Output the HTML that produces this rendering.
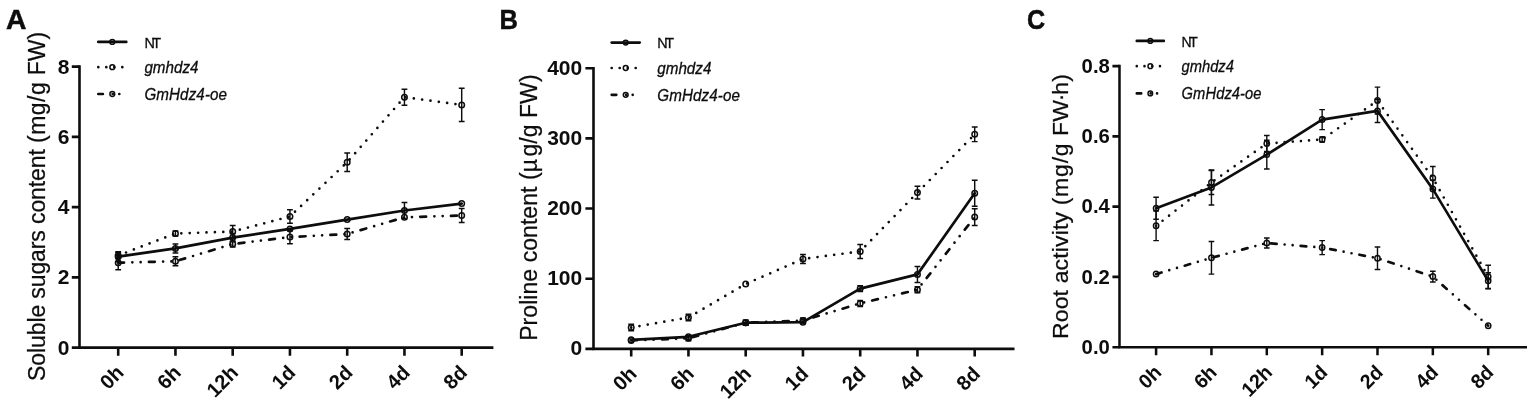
<!DOCTYPE html>
<html lang="en">
<head>
<meta charset="utf-8">
<title>Figure: soluble sugars, proline content and root activity</title>
<style>
html,body{margin:0;padding:0;background:#fff;}
body{width:1535px;height:403px;overflow:hidden;}
svg{display:block;}
text{font-family:"Liberation Sans", sans-serif;fill:#0d0d0d;}
.panel{font-size:28px;font-weight:700;stroke:#0d0d0d;stroke-width:0.5px;}
.tick{font-size:21px;font-weight:700;}
.xt{font-size:20.2px;font-weight:700;}
.title{font-size:23px;stroke:#0d0d0d;stroke-width:0.25px;}
.leg{font-size:16px;stroke:#0d0d0d;stroke-width:0.3px;}
.it{font-style:italic;}
.ax{stroke:#0d0d0d;stroke-width:2.6;fill:none;stroke-linecap:butt;}
.ln{stroke:#0d0d0d;stroke-width:2.7;fill:none;stroke-linejoin:round;stroke-linecap:round;}
.eb{stroke:#0d0d0d;stroke-width:1.45;fill:none;}
.mk{stroke:#0d0d0d;stroke-width:1.5;fill:none;}
</style>
</head>
<body>
<svg width="1535" height="403" viewBox="0 0 1535 403">
<rect x="0" y="0" width="1535" height="403" fill="#fff"/>
<g>
<text class="panel" transform="translate(6,29) scale(1.01,1)">A</text>
<text class="title" letter-spacing="0" text-anchor="middle" transform="translate(44.5,206.4) rotate(-90)"><tspan letter-spacing="-0.11">Soluble sugars content </tspan><tspan letter-spacing="0.5">(mg/g</tspan><tspan letter-spacing="0"> FW)</tspan></text>
<path class="ax" d="M79.5,65.3 V348.9 M78.2,347.6 H493.4"/>
<text class="tick" text-anchor="end" x="69.4" y="354.6">0</text>
<text class="tick" text-anchor="end" x="69.4" y="284.35">2</text>
<text class="tick" text-anchor="end" x="69.4" y="214.1">4</text>
<text class="tick" text-anchor="end" x="69.4" y="143.85">6</text>
<text class="tick" text-anchor="end" x="69.4" y="73.6">8</text>
<text class="xt" text-anchor="end" transform="translate(125,373.8) rotate(-45)">0h</text>
<text class="xt" text-anchor="end" transform="translate(182.25,373.8) rotate(-45)">6h</text>
<text class="xt" text-anchor="end" transform="translate(239.5,373.8) rotate(-45)">12h</text>
<text class="xt" text-anchor="end" transform="translate(296.75,373.8) rotate(-45)">1d</text>
<text class="xt" text-anchor="end" transform="translate(354,373.8) rotate(-45)">2d</text>
<text class="xt" text-anchor="end" transform="translate(411.25,373.8) rotate(-45)">4d</text>
<text class="xt" text-anchor="end" transform="translate(468.5,373.8) rotate(-45)">8d</text>
<path class="ax" d="M71.8,347.6 H79.5 M71.8,277.35 H79.5 M71.8,207.1 H79.5 M71.8,136.85 H79.5 M71.8,66.6 H79.5 M118.2,347.6 V355.7 M175.45,347.6 V355.7 M232.7,347.6 V355.7 M289.95,347.6 V355.7 M347.2,347.6 V355.7 M404.45,347.6 V355.7 M461.7,347.6 V355.7"/>
<path class="ln" d="M118.2,256.7 L175.45,248.4 L232.7,237.6 L289.95,228.9 L347.2,219.6 L404.45,210.5 L461.7,203.6"/>
<path class="ln" stroke-width="2.9" stroke-dasharray="0 8.4" d="M118.2,255.5 L175.45,233.5 L232.7,231.6 L289.95,216.5 L347.2,162.2 L404.45,97.2 L461.7,104.9"/>
<path class="ln" stroke-width="2.9" stroke-dasharray="5.85 8.3 0 8.3 0 8.3" d="M118.2,262.7 L175.45,261.3 L232.7,244 L289.95,237.1 L347.2,234 L404.45,217.3 L461.7,215.5"/>
<path class="eb" d="M118.2,251.7 V261.7 M115.3,251.7 H121.1 M115.3,261.7 H121.1 M175.45,243.9 V252.9 M172.55,243.9 H178.35 M172.55,252.9 H178.35 M232.7,233.6 V241.6 M229.8,233.6 H235.6 M229.8,241.6 H235.6 M404.45,202.5 V218.5 M401.55,202.5 H407.35 M401.55,218.5 H407.35"/>
<circle class="mk" cx="118.2" cy="256.7" r="2.75"/>
<circle class="mk" cx="175.45" cy="248.4" r="2.75"/>
<circle class="mk" cx="232.7" cy="237.6" r="2.75"/>
<circle class="mk" cx="289.95" cy="228.9" r="2.75"/>
<circle class="mk" cx="347.2" cy="219.6" r="2.75"/>
<circle class="mk" cx="404.45" cy="210.5" r="2.75"/>
<circle class="mk" cx="461.7" cy="203.6" r="2.75"/>
<path class="eb" d="M118.2,252.5 V258.5 M115.3,252.5 H121.1 M115.3,258.5 H121.1 M175.45,231 V236 M172.55,231 H178.35 M172.55,236 H178.35 M232.7,225.4 V237.8 M229.8,225.4 H235.6 M229.8,237.8 H235.6 M289.95,209.8 V223.2 M287.05,209.8 H292.85 M287.05,223.2 H292.85 M347.2,153 V171.4 M344.3,153 H350.1 M344.3,171.4 H350.1 M404.45,89.2 V105.2 M401.55,89.2 H407.35 M401.55,105.2 H407.35 M461.7,88.3 V121.5 M458.8,88.3 H464.6 M458.8,121.5 H464.6"/>
<circle class="mk" cx="118.2" cy="255.5" r="2.75"/>
<circle class="mk" cx="175.45" cy="233.5" r="2.75"/>
<circle class="mk" cx="232.7" cy="231.6" r="2.75"/>
<circle class="mk" cx="289.95" cy="216.5" r="2.75"/>
<circle class="mk" cx="347.2" cy="162.2" r="2.75"/>
<circle class="mk" cx="404.45" cy="97.2" r="2.75"/>
<circle class="mk" cx="461.7" cy="104.9" r="2.75"/>
<path class="eb" d="M118.2,255.7 V269.7 M115.3,255.7 H121.1 M115.3,269.7 H121.1 M175.45,256.8 V265.8 M172.55,256.8 H178.35 M172.55,265.8 H178.35 M232.7,241 V247 M229.8,241 H235.6 M229.8,247 H235.6 M289.95,230.4 V243.8 M287.05,230.4 H292.85 M287.05,243.8 H292.85 M347.2,228.5 V239.5 M344.3,228.5 H350.1 M344.3,239.5 H350.1 M461.7,208.5 V222.5 M458.8,208.5 H464.6 M458.8,222.5 H464.6"/>
<circle class="mk" cx="118.2" cy="262.7" r="2.75"/>
<circle class="mk" cx="175.45" cy="261.3" r="2.75"/>
<circle class="mk" cx="232.7" cy="244" r="2.75"/>
<circle class="mk" cx="289.95" cy="237.1" r="2.75"/>
<circle class="mk" cx="347.2" cy="234" r="2.75"/>
<circle class="mk" cx="404.45" cy="217.3" r="2.75"/>
<circle class="mk" cx="461.7" cy="215.5" r="2.75"/>
<path class="ln" d="M98.3,41.9 H126.3"/>
<circle class="mk" cx="112.3" cy="41.9" r="2.4"/>
<text class="leg" style="font-size:15.2px;letter-spacing:-2.7px" transform="translate(144.4,47.6) scale(0.95,1)">NT</text>
<path class="ln" stroke-dasharray="0 8" d="M98.3,67.2 H126.3"/>
<circle class="mk" cx="112.3" cy="67.2" r="2.4"/>
<text class="leg it" transform="translate(144.4,72.9) scale(0.95,1)">gmhdz4</text>
<path class="ln" stroke-dasharray="4.6 9.8 0 6.6 0 20" d="M98.3,94 H126.3"/>
<circle class="mk" cx="112.3" cy="94" r="2.4"/>
<text class="leg it" letter-spacing="0.1" transform="translate(144.4,99.7) scale(0.95,1)">GmHdz4-oe</text>
</g>
<g>
<text class="panel" transform="translate(499.6,28.9) scale(0.91,1)">B</text>
<text class="title" letter-spacing="0.06" text-anchor="middle" transform="translate(536.9,207.6) rotate(-90)">Proline content (µ<tspan dx="2.4">g/g FW)</tspan></text>
<path class="ax" d="M593.5,66.9 V350.2 M592.2,348.9 H1014.5"/>
<text class="tick" text-anchor="end" x="582.2" y="355.3">0</text>
<text class="tick" text-anchor="end" x="582.2" y="285.12">100</text>
<text class="tick" text-anchor="end" x="582.2" y="214.95">200</text>
<text class="tick" text-anchor="end" x="582.2" y="144.78">300</text>
<text class="tick" text-anchor="end" x="582.2" y="74.6">400</text>
<text class="xt" text-anchor="end" transform="translate(638,375.1) rotate(-45)">0h</text>
<text class="xt" text-anchor="end" transform="translate(695.25,375.1) rotate(-45)">6h</text>
<text class="xt" text-anchor="end" transform="translate(752.5,375.1) rotate(-45)">12h</text>
<text class="xt" text-anchor="end" transform="translate(809.75,375.1) rotate(-45)">1d</text>
<text class="xt" text-anchor="end" transform="translate(867,375.1) rotate(-45)">2d</text>
<text class="xt" text-anchor="end" transform="translate(924.25,375.1) rotate(-45)">4d</text>
<text class="xt" text-anchor="end" transform="translate(981.5,375.1) rotate(-45)">8d</text>
<path class="ax" d="M585.4,348.9 H593.5 M585.4,278.72 H593.5 M585.4,208.55 H593.5 M585.4,138.38 H593.5 M585.4,68.2 H593.5 M631.2,348.9 V356.4 M688.45,348.9 V356.4 M745.7,348.9 V356.4 M802.95,348.9 V356.4 M860.2,348.9 V356.4 M917.45,348.9 V356.4 M974.7,348.9 V356.4"/>
<path class="ln" d="M631.2,339.8 L688.45,336.8 L745.7,322.7 L802.95,322.2 L860.2,288.6 L917.45,274.4 L974.7,193.3"/>
<path class="ln" stroke-width="2.9" stroke-dasharray="0 8.4" d="M631.2,327.5 L688.45,317.5 L745.7,284 L802.95,259 L860.2,251.4 L917.45,192.6 L974.7,134.3"/>
<path class="ln" stroke-width="2.9" stroke-dasharray="5.85 8.3 0 8.3 0 8.3" d="M631.2,340.5 L688.45,338.3 L745.7,322.7 L802.95,320.5 L860.2,303.4 L917.45,289.7 L974.7,217.1"/>
<path class="eb" d="M745.7,320.2 V325.2 M742.8,320.2 H748.6 M742.8,325.2 H748.6 M860.2,285.6 V291.6 M857.3,285.6 H863.1 M857.3,291.6 H863.1 M917.45,266.4 V282.4 M914.55,266.4 H920.35 M914.55,282.4 H920.35 M974.7,180.3 V206.3 M971.8,180.3 H977.6 M971.8,206.3 H977.6"/>
<circle class="mk" cx="631.2" cy="339.8" r="2.75"/>
<circle class="mk" cx="688.45" cy="336.8" r="2.75"/>
<circle class="mk" cx="745.7" cy="322.7" r="2.75"/>
<circle class="mk" cx="802.95" cy="322.2" r="2.75"/>
<circle class="mk" cx="860.2" cy="288.6" r="2.75"/>
<circle class="mk" cx="917.45" cy="274.4" r="2.75"/>
<circle class="mk" cx="974.7" cy="193.3" r="2.75"/>
<path class="eb" d="M631.2,324.2 V330.8 M628.3,324.2 H634.1 M628.3,330.8 H634.1 M688.45,314.2 V320.8 M685.55,314.2 H691.35 M685.55,320.8 H691.35 M802.95,254.5 V263.5 M800.05,254.5 H805.85 M800.05,263.5 H805.85 M860.2,244.4 V258.4 M857.3,244.4 H863.1 M857.3,258.4 H863.1 M917.45,186.2 V199 M914.55,186.2 H920.35 M914.55,199 H920.35 M974.7,127 V141.6 M971.8,127 H977.6 M971.8,141.6 H977.6"/>
<circle class="mk" cx="631.2" cy="327.5" r="2.75"/>
<circle class="mk" cx="688.45" cy="317.5" r="2.75"/>
<circle class="mk" cx="745.7" cy="284" r="2.75"/>
<circle class="mk" cx="802.95" cy="259" r="2.75"/>
<circle class="mk" cx="860.2" cy="251.4" r="2.75"/>
<circle class="mk" cx="917.45" cy="192.6" r="2.75"/>
<circle class="mk" cx="974.7" cy="134.3" r="2.75"/>
<path class="eb" d="M688.45,335.8 V340.8 M685.55,335.8 H691.35 M685.55,340.8 H691.35 M745.7,320.2 V325.2 M742.8,320.2 H748.6 M742.8,325.2 H748.6 M802.95,318 V323 M800.05,318 H805.85 M800.05,323 H805.85 M860.2,300.4 V306.4 M857.3,300.4 H863.1 M857.3,306.4 H863.1 M917.45,286.7 V292.7 M914.55,286.7 H920.35 M914.55,292.7 H920.35 M974.7,208.8 V225.4 M971.8,208.8 H977.6 M971.8,225.4 H977.6"/>
<circle class="mk" cx="631.2" cy="340.5" r="2.75"/>
<circle class="mk" cx="688.45" cy="338.3" r="2.75"/>
<circle class="mk" cx="745.7" cy="322.7" r="2.75"/>
<circle class="mk" cx="802.95" cy="320.5" r="2.75"/>
<circle class="mk" cx="860.2" cy="303.4" r="2.75"/>
<circle class="mk" cx="917.45" cy="289.7" r="2.75"/>
<circle class="mk" cx="974.7" cy="217.1" r="2.75"/>
<path class="ln" d="M611.7,42.6 H639.7"/>
<circle class="mk" cx="625.7" cy="42.6" r="2.4"/>
<text class="leg" style="font-size:15.2px;letter-spacing:-2.7px" transform="translate(657.3,48.3) scale(0.95,1)">NT</text>
<path class="ln" stroke-dasharray="0 8" d="M611.7,68 H639.7"/>
<circle class="mk" cx="625.7" cy="68" r="2.4"/>
<text class="leg it" transform="translate(657.3,73.7) scale(0.95,1)">gmhdz4</text>
<path class="ln" stroke-dasharray="4.6 9.8 0 6.6 0 20" d="M611.7,94.8 H639.7"/>
<circle class="mk" cx="625.7" cy="94.8" r="2.4"/>
<text class="leg it" letter-spacing="0.1" transform="translate(657.3,100.5) scale(0.95,1)">GmHdz4-oe</text>
</g>
<g transform="translate(36.94,0) scale(0.967,1)">
<text class="panel" transform="translate(1023.74,29) scale(0.93,1)">C</text>
<text class="title" letter-spacing="0" text-anchor="middle" transform="translate(1066.76,206.5) rotate(-90)"><tspan letter-spacing="0.15">Root activity </tspan><tspan letter-spacing="0.8">(mg/g</tspan><tspan letter-spacing="0.2"> FW<tspan dx="-1.4">·</tspan><tspan dx="-1.4">h)</tspan></tspan></text>
<path class="ax" d="M1119.5,64.8 V348.5 M1118.2,347.2 H1540.91"/>
<text class="tick" text-anchor="end" x="1109.5" y="353.8">0.0</text>
<text class="tick" text-anchor="end" x="1109.5" y="283.52">0.2</text>
<text class="tick" text-anchor="end" x="1109.5" y="213.25">0.4</text>
<text class="tick" text-anchor="end" x="1109.5" y="142.97">0.6</text>
<text class="tick" text-anchor="end" x="1109.5" y="72.7">0.8</text>
<text class="xt" text-anchor="end" transform="translate(1164.15,373.4) rotate(-45)">0h</text>
<text class="xt" text-anchor="end" transform="translate(1221.39,373.4) rotate(-45)">6h</text>
<text class="xt" text-anchor="end" transform="translate(1278.63,373.4) rotate(-45)">12h</text>
<text class="xt" text-anchor="end" transform="translate(1335.87,373.4) rotate(-45)">1d</text>
<text class="xt" text-anchor="end" transform="translate(1393.1,373.4) rotate(-45)">2d</text>
<text class="xt" text-anchor="end" transform="translate(1450.34,373.4) rotate(-45)">4d</text>
<text class="xt" text-anchor="end" transform="translate(1507.58,373.4) rotate(-45)">8d</text>
<path class="ax" d="M1112.2,347.2 H1119.5 M1112.2,276.92 H1119.5 M1112.2,206.65 H1119.5 M1112.2,136.37 H1119.5 M1112.2,66.1 H1119.5 M1157.35,347.2 V355.3 M1214.59,347.2 V355.3 M1271.83,347.2 V355.3 M1329.07,347.2 V355.3 M1386.3,347.2 V355.3 M1443.54,347.2 V355.3 M1500.78,347.2 V355.3"/>
<path class="ln" d="M1157.35,208.3 L1214.59,187.4 L1271.83,154.6 L1329.07,119.6 L1386.3,110.9 L1443.54,189.1 L1500.78,280.8"/>
<path class="ln" stroke-width="2.9" stroke-dasharray="0 8.4" d="M1157.35,225.8 L1214.59,182.5 L1271.83,143.5 L1329.07,139.5 L1386.3,100.6 L1443.54,178 L1500.78,276.8"/>
<path class="ln" stroke-width="2.9" stroke-dasharray="5.85 8.3 0 8.3 0 8.3" d="M1157.35,274.1 L1214.59,257.8 L1271.83,243 L1329.07,247.6 L1386.3,258.2 L1443.54,276.6 L1500.78,325.7"/>
<path class="eb" d="M1157.35,197.3 V219.3 M1154.45,197.3 H1160.25 M1154.45,219.3 H1160.25 M1214.59,169.9 V204.9 M1211.69,169.9 H1217.49 M1211.69,204.9 H1217.49 M1271.83,140.3 V168.9 M1268.93,140.3 H1274.73 M1268.93,168.9 H1274.73 M1329.07,109.6 V129.6 M1326.17,109.6 H1331.97 M1326.17,129.6 H1331.97 M1386.3,99.4 V122.4 M1383.4,99.4 H1389.2 M1383.4,122.4 H1389.2 M1443.54,180.1 V198.1 M1440.64,180.1 H1446.44 M1440.64,198.1 H1446.44 M1500.78,272.8 V288.8 M1497.88,272.8 H1503.68 M1497.88,288.8 H1503.68"/>
<circle class="mk" cx="1157.35" cy="208.3" r="2.75"/>
<circle class="mk" cx="1214.59" cy="187.4" r="2.75"/>
<circle class="mk" cx="1271.83" cy="154.6" r="2.75"/>
<circle class="mk" cx="1329.07" cy="119.6" r="2.75"/>
<circle class="mk" cx="1386.3" cy="110.9" r="2.75"/>
<circle class="mk" cx="1443.54" cy="189.1" r="2.75"/>
<circle class="mk" cx="1500.78" cy="280.8" r="2.75"/>
<path class="eb" d="M1157.35,211 V240.6 M1154.45,211 H1160.25 M1154.45,240.6 H1160.25 M1214.59,170.5 V194.5 M1211.69,170.5 H1217.49 M1211.69,194.5 H1217.49 M1271.83,135.5 V151.5 M1268.93,135.5 H1274.73 M1268.93,151.5 H1274.73 M1329.07,137 V142 M1326.17,137 H1331.97 M1326.17,142 H1331.97 M1386.3,87.1 V114.1 M1383.4,87.1 H1389.2 M1383.4,114.1 H1389.2 M1443.54,166.5 V189.5 M1440.64,166.5 H1446.44 M1440.64,189.5 H1446.44 M1500.78,265.2 V288.4 M1497.88,265.2 H1503.68 M1497.88,288.4 H1503.68"/>
<circle class="mk" cx="1157.35" cy="225.8" r="2.75"/>
<circle class="mk" cx="1214.59" cy="182.5" r="2.75"/>
<circle class="mk" cx="1271.83" cy="143.5" r="2.75"/>
<circle class="mk" cx="1329.07" cy="139.5" r="2.75"/>
<circle class="mk" cx="1386.3" cy="100.6" r="2.75"/>
<circle class="mk" cx="1443.54" cy="178" r="2.75"/>
<circle class="mk" cx="1500.78" cy="276.8" r="2.75"/>
<path class="eb" d="M1214.59,241.5 V274.1 M1211.69,241.5 H1217.49 M1211.69,274.1 H1217.49 M1271.83,238 V248 M1268.93,238 H1274.73 M1268.93,248 H1274.73 M1329.07,240.6 V254.6 M1326.17,240.6 H1331.97 M1326.17,254.6 H1331.97 M1386.3,247 V269.4 M1383.4,247 H1389.2 M1383.4,269.4 H1389.2 M1443.54,271.3 V281.9 M1440.64,271.3 H1446.44 M1440.64,281.9 H1446.44"/>
<circle class="mk" cx="1157.35" cy="274.1" r="2.75"/>
<circle class="mk" cx="1214.59" cy="257.8" r="2.75"/>
<circle class="mk" cx="1271.83" cy="243" r="2.75"/>
<circle class="mk" cx="1329.07" cy="247.6" r="2.75"/>
<circle class="mk" cx="1386.3" cy="258.2" r="2.75"/>
<circle class="mk" cx="1443.54" cy="276.6" r="2.75"/>
<circle class="mk" cx="1500.78" cy="325.7" r="2.75"/>
<path class="ln" d="M1137.36,40.9 H1165.36"/>
<circle class="mk" cx="1151.36" cy="40.9" r="2.4"/>
<text class="leg" style="font-size:15.2px;letter-spacing:-2.7px" transform="translate(1183.72,46.6) scale(0.95,1)">NT</text>
<path class="ln" stroke-dasharray="0 8" d="M1137.36,66.2 H1165.36"/>
<circle class="mk" cx="1151.36" cy="66.2" r="2.4"/>
<text class="leg it" transform="translate(1183.72,71.9) scale(0.95,1)">gmhdz4</text>
<path class="ln" stroke-dasharray="4.6 9.8 0 6.6 0 20" d="M1137.36,93.4 H1165.36"/>
<circle class="mk" cx="1151.36" cy="93.4" r="2.4"/>
<text class="leg it" letter-spacing="0.1" transform="translate(1183.72,99.1) scale(0.95,1)">GmHdz4-oe</text>
</g>
</svg>
</body>
</html>
